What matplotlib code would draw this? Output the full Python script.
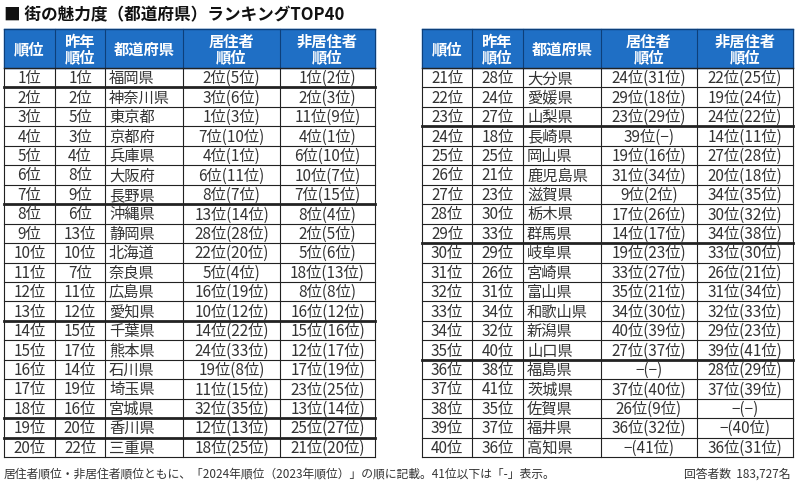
"""Town attractiveness ranking table (prefectures) TOP40."""

import matplotlib
matplotlib.use("Agg")
import matplotlib.pyplot as plt

plt.rcParams["font.family"] = "Noto Sans CJK JP"

# data
ranks = ["%d位" % i for i in range(1, 41)]
last_year = ["1位", "2位", "5位", "3位", "4位", "8位", "9位", "6位", "13位", "10位",
             "7位", "11位", "12位", "15位", "17位", "14位", "19位", "16位", "20位", "22位",
             "28位", "24位", "27位", "18位", "25位", "21位", "23位", "30位", "33位", "29位",
             "26位", "31位", "34位", "32位", "40位", "38位", "41位", "35位", "37位", "36位"]
prefectures = ["福岡県", "神奈川県", "東京都", "京都府", "兵庫県", "大阪府", "長野県", "沖縄県", "静岡県", "北海道",
               "奈良県", "広島県", "愛知県", "千葉県", "熊本県", "石川県", "埼玉県", "宮城県", "香川県", "三重県",
               "大分県", "愛媛県", "山梨県", "長崎県", "岡山県", "鹿児島県", "滋賀県", "栃木県", "群馬県", "岐阜県",
               "宮崎県", "富山県", "和歌山県", "新潟県", "山口県", "福島県", "茨城県", "佐賀県", "福井県", "高知県"]
resident = ["2位(5位)", "3位(6位)", "1位(3位)", "7位(10位)", "4位(1位)", "6位(11位)", "8位(7位)",
            "13位(14位)", "28位(28位)", "22位(20位)", "5位(4位)", "16位(19位)", "10位(12位)",
            "14位(22位)", "24位(33位)", "19位(8位)", "11位(15位)", "32位(35位)", "12位(13位)",
            "18位(25位)", "24位(31位)", "29位(18位)", "23位(29位)", "39位(−)", "19位(16位)",
            "31位(34位)", "9位(2位)", "17位(26位)", "14位(17位)", "19位(23位)", "33位(27位)",
            "35位(21位)", "34位(30位)", "40位(39位)", "27位(37位)", "−(−)", "37位(40位)",
            "26位(9位)", "36位(32位)", "−(41位)"]
non_resident = ["1位(2位)", "2位(3位)", "11位(9位)", "4位(1位)", "6位(10位)", "10位(7位)", "7位(15位)",
                "8位(4位)", "2位(5位)", "5位(6位)", "18位(13位)", "8位(8位)", "16位(12位)",
                "15位(16位)", "12位(17位)", "17位(19位)", "23位(25位)", "13位(14位)", "25位(27位)",
                "21位(20位)", "22位(25位)", "19位(24位)", "24位(22位)", "14位(11位)", "27位(28位)",
                "20位(18位)", "34位(35位)", "30位(32位)", "34位(38位)", "33位(30位)", "26位(21位)",
                "31位(34位)", "32位(33位)", "29位(23位)", "39位(41位)", "28位(29位)", "37位(39位)",
                "−(−)", "−(40位)", "36位(31位)"]
headers = ["順位", "昨年\n順位", "都道府県", "居住者\n順位", "非居住者\n順位"]

blue = "#1f6fc5"
text_color = "#333333"


def draw_table(ax, x_edges, rows, thick_after):
    top, head_bottom, bottom = 30, 69, 458
    row_h = (bottom - head_bottom) / len(rows)
    ax.add_patch(plt.Rectangle((x_edges[0], top), x_edges[-1] - x_edges[0],
                               head_bottom - top, color=blue, zorder=1))
    for j, h in enumerate(headers):
        xc = (x_edges[j] + x_edges[j + 1]) / 2
        ax.text(xc, (top + head_bottom) / 2, h, ha="center", va="center",
                color="white", fontsize=11, fontweight="bold", linespacing=1.0)
    for i, row in enumerate(rows):
        yc = head_bottom + (i + 0.5) * row_h
        for j, val in enumerate(row):
            if j == 2:
                ax.text(x_edges[j] + 4, yc, val, ha="left", va="center",
                        color=text_color, fontsize=11)
            else:
                xc = (x_edges[j] + x_edges[j + 1]) / 2
                ax.text(xc, yc, val, ha="center", va="center",
                        color=text_color, fontsize=11)
        y_line = head_bottom + (i + 1) * row_h
        lw = 2 if i in thick_after else 0.8
        ax.plot([x_edges[0], x_edges[-1]], [y_line, y_line], color="#222222", lw=lw)
    for x in x_edges:
        ax.plot([x, x], [head_bottom, bottom], color="#222222", lw=0.8)
        ax.plot([x, x], [top, head_bottom], color="#0d3f7a", lw=0.8)
    ax.plot([x_edges[0], x_edges[-1]], [head_bottom, head_bottom], color="#222222", lw=1)
    ax.plot([x_edges[0], x_edges[-1]], [top, top], color="#0d3f7a", lw=1)


fig = plt.figure(figsize=(8, 4.89), dpi=100)
ax = fig.add_axes([0, 0, 1, 1])
ax.set_xlim(0, 800)
ax.set_ylim(489, 0)
ax.axis("off")

ax.text(4, 15, "■ 街の魅力度（都道府県）ランキングTOP40", ha="left", va="center",
        fontsize=12, fontweight="bold", color="#111111")

all_rows = list(zip(ranks, last_year, prefectures, resident, non_resident))
draw_table(ax, [4, 55, 105, 183, 280, 375], all_rows[:20], [0, 6, 12, 17, 18])
draw_table(ax, [422, 472, 523, 601, 697, 793], all_rows[20:], [2, 8, 14])

ax.text(4, 474, "居住者順位・非居住者順位ともに、「2024年順位（2023年順位）」の順に記載。41位以下は「-」表示。",
        ha="left", va="center", fontsize=8.5, color=text_color)
ax.text(790, 474, "回答者数  183,727名", ha="right", va="center", fontsize=8.5, color=text_color)

plt.savefig("out.png", dpi=100)
